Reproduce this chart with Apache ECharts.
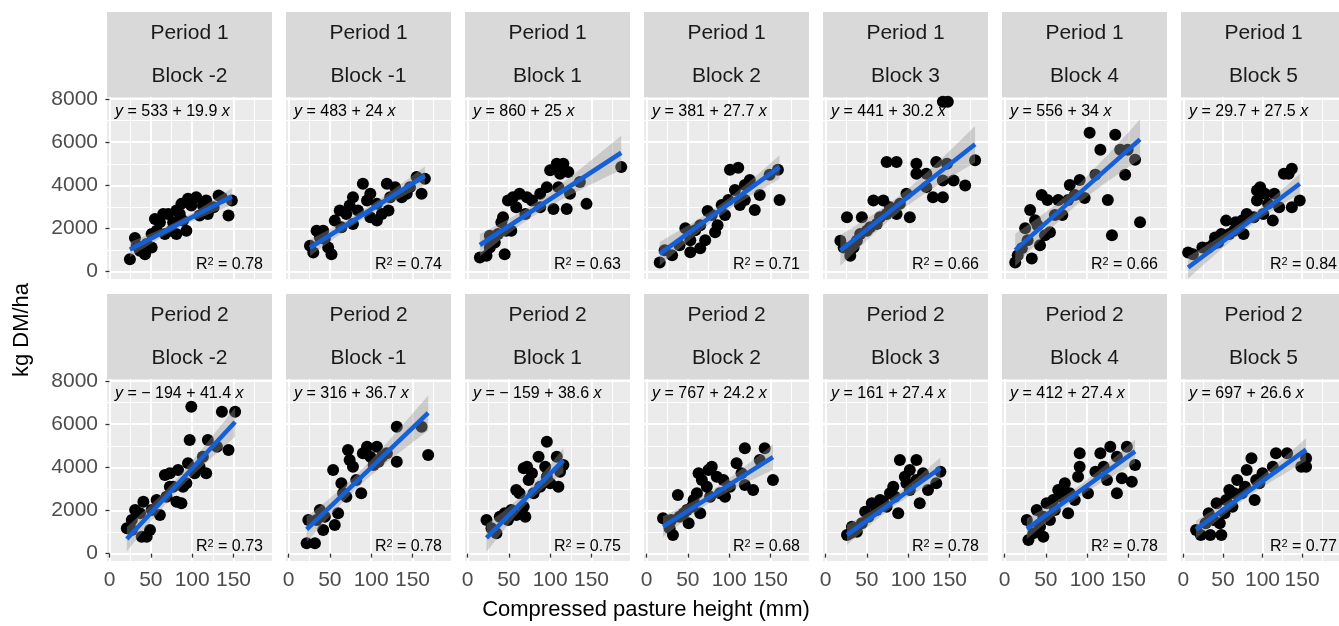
<!DOCTYPE html>
<html>
<head>
<meta charset="utf-8">
<script src="https://cdn.jsdelivr.net/npm/echarts@6/dist/echarts.min.js"></script>
<style>
html, body { margin: 0; padding: 0; background: #fff; }
#main { width: 1339px; height: 626px; }
</style>
</head>
<body>
<div id="main"></div>
<script>
var periods = ['Period 1', 'Period 2'];
var blocks = ['Block -2', 'Block -1', 'Block 1', 'Block 2', 'Block 3', 'Block 4', 'Block 5'];
var intercepts = [[533, 483, 860, 381, 441, 556, 29.7], [-194, 316, -159, 767, 161, 412, 697]];
var slopes = [[19.9, 24, 25, 27.7, 30.2, 34, 27.5], [41.4, 36.7, 38.6, 24.2, 27.4, 27.4, 26.6]];
var rSquared = [['0.78', '0.74', '0.63', '0.71', '0.66', '0.66', '0.84'], ['0.73', '0.78', '0.75', '0.68', '0.78', '0.78', '0.77']];
var xTicks = [0, 50, 100, 150];
var xMinor = [25, 75, 125, 175];
var yTicks = [0, 2000, 4000, 6000, 8000];
var yMinor = [1000, 3000, 5000, 7000];

// [height mm, kg DM/ha]
var p1_bm2 = [[24.7,578],[30.8,1557],[36.8,967],[44.9,1277],[51,1743],[57,1898],[55,2442],[61,2287],[67,1743],[71,2675],[77,2287],[81,2830],[85,2675],[81,1743],[93,1898],[89,2365],[95,3374],[105,3451],[99,3063],[109,2597],[119,2675],[126,2986],[132,3529],[136,3420],[144,2597],[148,3296],[113,3063],[65,2675],[43,811],[33,1200],[51,1122],[75,1898],[87,3141],[117,3296]];
var p1_bm1 = [[26,1200],[30,889],[38,1588],[42,1898],[48,1122],[52,811],[56,2365],[62,2830],[70,2675],[78,2209],[84,2830],[90,4072],[95,3296],[99,2520],[107,2365],[113,2675],[119,4072],[123,3451],[129,3917],[137,3451],[147,3917],[155,4383],[161,3607],[165,4305],[78,3451],[64,2054],[99,3607],[107,3141],[34,1898],[44,1510],[74,3063],[121,2830],[143,3607]];
var p1_b1 = [[15,656],[23,734],[45,811],[27,1122],[33,1355],[41,2287],[47,1898],[53,1898],[49,3296],[55,3451],[63,3607],[72,3451],[78,3296],[88,3607],[96,3917],[100,4694],[108,5004],[116,5004],[104,2908],[120,2908],[124,3607],[136,4150],[144,3141],[186,4849],[59,2986],[70,2675],[43,2520],[110,3917],[122,4616],[112,4538],[27,1665],[37,1743],[88,2986]];
var p1_b2 = [[16,429],[22,988],[31,755],[40,1221],[53,1454],[59,1920],[65,2153],[71,1454],[79,2620],[86,2153],[91,3086],[99,3319],[101,4718],[111,4812],[107,3785],[119,3319],[125,4252],[131,2853],[137,3552],[149,4485],[159,4718],[161,3319],[47,2013],[65,1081],[83,1827],[95,2620],[113,3086],[53,895],[74,2806],[119,4019]];
var p1_b3 = [[18,1433],[26,2520],[30,734],[34,1122],[42,1743],[44,2520],[50,1898],[54,2054],[58,3296],[62,2209],[70,3296],[74,2675],[78,2986],[86,2675],[90,3141],[98,3607],[102,2520],[74,5082],[86,5082],[110,5004],[122,4538],[130,3451],[134,5082],[142,4228],[147,5004],[155,4228],[169,3995],[181,5160],[142,7877],[148,7877],[142,3451],[22,1122],[38,1433],[66,2520],[110,4538],[122,3917]];
var p1_b4 = [[13,429],[16,755],[21,1081],[28,1454],[25,2013],[33,615],[37,2386],[43,1221],[49,1687],[55,1827],[52,3318],[65,3318],[70,2620],[77,3318],[85,3552],[91,4252],[97,3413],[103,6437],[110,4485],[116,5650],[125,3319],[130,1687],[134,6344],[140,5650],[146,4485],[149,5650],[158,5184],[164,2293],[31,2853],[40,2153],[61,2620],[79,4019],[45,3552]];
var p1_b5 = [[6,889],[12,811],[24,1122],[32,1122],[38,1277],[40,1588],[48,1743],[54,2365],[58,1743],[66,2287],[76,1743],[74,2365],[80,2675],[89,2520],[93,3296],[97,3917],[103,3607],[107,3141],[115,3607],[113,2365],[121,2986],[127,4538],[137,4772],[133,4538],[147,3296],[137,2986],[93,3762],[64,1898],[44,1355],[101,2675]];
var p2_bm2 = [[21,1173],[27,1559],[31,2023],[37,1868],[39,787],[45,787],[41,2409],[49,1096],[51,2023],[57,2486],[61,1791],[69,2641],[67,3645],[73,3722],[77,3104],[81,2409],[87,2332],[83,3877],[89,3104],[95,4186],[97,5267],[99,6812],[103,3722],[109,4031],[113,4495],[119,5267],[130,4958],[136,6580],[144,4804],[152,6580],[117,3722],[27,1096],[73,3104],[93,3258]];
var p2_bm1 = [[22,477],[32,477],[24,1559],[34,1559],[38,2023],[44,1714],[56,1327],[60,1868],[54,3877],[64,3258],[70,2641],[74,4340],[72,4804],[82,3413],[88,2795],[95,4958],[99,4495],[103,4108],[107,4958],[113,4495],[119,4649],[131,5885],[131,4263],[161,5885],[169,4572],[42,1096],[66,2795],[90,4649],[109,4263],[78,4031]];
var p2_b1 = [[23,1559],[29,1173],[35,941],[39,1714],[45,1868],[53,2023],[59,1791],[63,2795],[68,2177],[70,1714],[68,3954],[74,3413],[78,3722],[86,4495],[88,3104],[96,5190],[94,4031],[100,3258],[108,4495],[110,3104],[112,3800],[116,4108],[80,2795],[59,2950],[72,4031],[96,3568],[49,1559]];
var p2_b2 = [[20,1636],[28,1173],[32,864],[38,2718],[45,1868],[51,1405],[55,2177],[61,2795],[65,1868],[67,3413],[73,3104],[79,4031],[85,3568],[89,2795],[95,2641],[101,3104],[109,4186],[115,3722],[119,4881],[119,3181],[129,2950],[137,4340],[143,4881],[153,3413],[40,1714],[57,2486],[77,2641],[93,3413],[63,3722],[30,1559],[49,2023],[75,3877]];
var p2_b3 = [[26,864],[32,1250],[38,1018],[44,1405],[52,1714],[56,2332],[62,2023],[66,2486],[74,2177],[78,2795],[84,2641],[88,1868],[90,4340],[96,3568],[102,2950],[102,3877],[110,4340],[110,3413],[114,2332],[118,3722],[124,2950],[134,3259],[139,3800],[48,1945],[70,2409],[30,941],[98,3259],[82,3104]];
var p2_b4 = [[27,1559],[29,632],[35,941],[39,2023],[43,1250],[47,786],[51,2332],[55,1559],[61,2023],[65,2950],[69,2641],[73,3259],[77,1868],[79,2795],[85,2486],[91,4649],[91,4031],[89,3568],[101,2795],[110,3800],[116,4649],[120,4031],[128,4958],[124,3413],[136,4495],[136,2795],[142,3490],[148,4958],[154,3336],[158,4108],[59,2486],[75,2795],[47,1714]];
var p2_b5 = [[16,1096],[22,864],[32,1868],[34,864],[42,2332],[46,1405],[48,864],[52,1868],[58,2950],[62,2177],[68,3413],[74,2795],[80,3877],[86,4417],[90,2486],[92,3413],[100,3722],[113,4031],[117,4649],[131,4649],[149,4031],[155,4417],[155,4031],[38,1559],[54,2486],[78,3104],[96,3259],[64,2795],[28,1405]];

var points = [
    [p1_bm2, p1_bm1, p1_b1, p1_b2, p1_b3, p1_b4, p1_b5],
    [p2_bm2, p2_bm1, p2_b1, p2_b2, p2_b3, p2_b4, p2_b5]
];

var FONT = "'Liberation Sans', Arial, Helvetica, sans-serif";
var PANEL_W = 165, PANEL_H = 182, STEP = 179, LEFT0 = 107;
var ROW_TOP = [97, 379];
var STRIP_H = 85;
var X_MIN = -3, X_MAX = 196.6, Y_MIN = -340, Y_MAX = 8093;

var dom = document.getElementById('main');
var chart = echarts.init(dom, null, { renderer: 'canvas' });

var grids = [], xAxes = [], yAxes = [], series = [], graphics = [];

function fmt(v) {
    return v < 0 ? '\u2212 ' + Math.abs(v) : String(v);
}

// band of a fitted line: 95% interval of the mean, from the points' spread
function bandFor(pts, a, b) {
    var n = pts.length, sx = 0, i;
    for (i = 0; i < n; i++) sx += pts[i][0];
    var xbar = sx / n, sxx = 0, sse = 0;
    for (i = 0; i < n; i++) {
        sxx += Math.pow(pts[i][0] - xbar, 2);
        sse += Math.pow(pts[i][1] - (a + b * pts[i][0]), 2);
    }
    var s = Math.sqrt(sse / (n - 2));
    var xs = pts.map(function (p) { return p[0]; });
    var lo = Math.min.apply(null, xs), hi = Math.max.apply(null, xs);
    var out = [];
    for (i = 0; i <= 20; i++) {
        var x = lo + (hi - lo) * i / 20;
        var half = 2.0 * s * Math.sqrt(1 / n + Math.pow(x - xbar, 2) / sxx);
        out.push([x, a + b * x - half, a + b * x + half]);
    }
    return out;
}

function plain(v) { return String(v); }

periods.forEach(function (period, r) {
    blocks.forEach(function (block, c) {
        var g = grids.length;
        var left = LEFT0 + c * STEP, top = ROW_TOP[r];
        grids.push({ left: left, top: top, width: PANEL_W, height: PANEL_H, show: true,
            backgroundColor: '#EBEBEB', borderWidth: 0, containLabel: false });

        // minor grid lines
        xAxes.push({ gridIndex: g, type: 'value', position: 'bottom', min: X_MIN, max: X_MAX,
            axisLine: { show: false }, axisTick: { show: false, customValues: xMinor },
            axisLabel: { show: false, customValues: xMinor },
            splitLine: { show: true, lineStyle: { color: '#FFFFFF', width: 1 } } });
        yAxes.push({ gridIndex: g, type: 'value', position: 'left', min: Y_MIN, max: Y_MAX,
            axisLine: { show: false }, axisTick: { show: false, customValues: yMinor },
            axisLabel: { show: false, customValues: yMinor },
            splitLine: { show: true, lineStyle: { color: '#FFFFFF', width: 1 } } });
        // major grid lines, ticks, labels
        xAxes.push({ gridIndex: g, type: 'value', position: 'bottom', offset: 0, min: X_MIN, max: X_MAX,
            axisLine: { show: false },
            axisTick: { show: r === 1, length: 4, customValues: xTicks, lineStyle: { color: '#333333', width: 1.3 } },
            axisLabel: { show: r === 1, customValues: xTicks, formatter: plain, color: '#4D4D4D',
                fontSize: 21, fontFamily: FONT, margin: 9 },
            splitLine: { show: true, lineStyle: { color: '#FFFFFF', width: 2 } } });
        yAxes.push({ gridIndex: g, type: 'value', position: 'left', offset: 0, min: Y_MIN, max: Y_MAX,
            axisLine: { show: false },
            axisTick: { show: c === 0, length: 4, customValues: yTicks, lineStyle: { color: '#333333', width: 1.3 } },
            axisLabel: { show: c === 0, customValues: yTicks, formatter: plain, color: '#4D4D4D',
                fontSize: 21, fontFamily: FONT, margin: 9 },
            splitLine: { show: true, lineStyle: { color: '#FFFFFF', width: 2 } } });
        var xi = 2 * g + 1, yi = 2 * g + 1;

        var pts = points[r][c];
        var a = intercepts[r][c], b = slopes[r][c];
        var band = bandFor(pts, a, b);
        var x0 = band[0][0], x1 = band[band.length - 1][0];

        series.push({
            type: 'scatter', xAxisIndex: xi, yAxisIndex: yi, data: pts,
            symbol: 'circle', symbolSize: 12, itemStyle: { color: '#000000', opacity: 1 },
            silent: true, z: 2
        });
        series.push({
            type: 'custom', xAxisIndex: xi, yAxisIndex: yi, data: [[x0, band[0][1]]],
            silent: true, z: 3,
            renderItem: function (params, api) {
                var poly = [];
                band.forEach(function (p) { poly.push(api.coord([p[0], p[2]])); });
                for (var i = band.length - 1; i >= 0; i--) poly.push(api.coord([band[i][0], band[i][1]]));
                return { type: 'polygon', shape: { points: poly }, style: { fill: 'rgba(153,153,153,0.4)' } };
            }
        });
        series.push({
            type: 'line', xAxisIndex: xi, yAxisIndex: yi,
            data: [[x0, a + b * x0], [x1, a + b * x1]],
            showSymbol: false, silent: true, z: 4,
            lineStyle: { color: '#1560D6', width: 4.5 }
        });

        // strip
        graphics.push({ type: 'rect', left: left, top: top - STRIP_H, silent: true,
            shape: { width: PANEL_W, height: STRIP_H }, style: { fill: '#D9D9D9' } });
        graphics.push({ type: 'text', x: left + PANEL_W / 2, y: top - STRIP_H + 21, silent: true,
            style: { text: period, fill: '#1A1A1A', font: '21px ' + FONT, align: 'center', verticalAlign: 'middle' } });
        graphics.push({ type: 'text', x: left + PANEL_W / 2, y: top - STRIP_H + 64, silent: true,
            style: { text: block, fill: '#1A1A1A', font: '21px ' + FONT, align: 'center', verticalAlign: 'middle' } });

        // fit labels
        graphics.push({ type: 'text', x: left + 8, y: top + 15, silent: true, z: 10,
            style: {
                text: '{i|y} = ' + fmt(a) + ' + ' + b + ' {i|x}',
                fill: '#000', font: '16px ' + FONT, align: 'left', verticalAlign: 'middle',
                rich: { i: { fontStyle: 'italic', fontSize: 16, fontFamily: FONT, fill: '#000' } }
            } });
        graphics.push({ type: 'text', x: left + 156, y: top + 168, silent: true, z: 10,
            style: {
                text: '{n|R}{s|2}{n| = ' + rSquared[r][c] + '}',
                fill: '#000', font: '16px ' + FONT, align: 'right', verticalAlign: 'middle',
                rich: {
                    n: { fontSize: 16, fontFamily: FONT, fill: '#000' },
                    s: { fontSize: 11, fontFamily: FONT, fill: '#000', verticalAlign: 'top', padding: [0, 0, 6, 0] }
                }
            } });
    });
});

graphics.push({ type: 'text', x: 22, y: 330, rotation: Math.PI / 2, silent: true,
    style: { text: 'kg DM/ha', fill: '#000', font: '22px ' + FONT, align: 'center', verticalAlign: 'middle' } });
graphics.push({ type: 'text', x: 646, y: 610, silent: true,
    style: { text: 'Compressed pasture height (mm)', fill: '#000', font: '22px ' + FONT, align: 'center', verticalAlign: 'middle' } });

var option = {
    backgroundColor: '#FFFFFF',
    animation: false,
    grid: grids,
    xAxis: xAxes,
    yAxis: yAxes,
    series: series,
    graphic: { elements: graphics }
};

if (option && typeof option === 'object') {
    chart.setOption(option, true);
}
</script>
</body>
</html>
